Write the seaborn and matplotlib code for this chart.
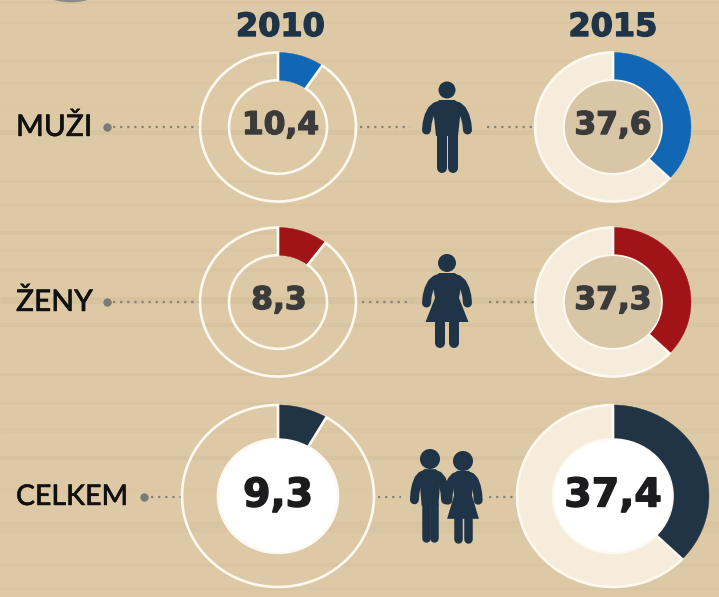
"""
plot.py

Donut infographic: share by group, 2010 vs 2015
"""

import numpy as np
import pandas as pd
import seaborn as sns

from matplotlib import pyplot as plt
from matplotlib import patheffects as pe
from matplotlib.patches import Circle, Polygon

sns.set_style('white')
plt.rcParams['font.family'] = ['Lato', 'DejaVu Sans']

#------------------------------------------------------------------------------
# Data
#------------------------------------------------------------------------------
years = ['2010', '2015']
groups = ['MUŽI', 'ŽENY', 'CELKEM']
labels_2010 = ['10,4', '8,3', '9,3']
labels_2015 = ['37,6', '37,3', '37,4']
# slice sizes as drawn in the picture, they don't follow the printed labels exactly
slices_2010 = [9.6, 10.4, 8.4]
slices_2015 = [37.1, 37.1, 37.2]

#------------------------------------------------------------------------------
# Layout (pixels) and colours
#------------------------------------------------------------------------------
W, H = 719, 597
row_y = [127, 302, 496]
col_x = [278, 613]
ring_rx = [78, 78, 96]
ring_ry = [74.5, 74.5, 91]
hole_rx = [49, 49, 60]
row_colors = ['#1267b4', '#a01418', '#213446']
navy = '#203448'
wood = '#ddc9a6'
cream = '#f6ecdc'
hole_wood = '#d8c6a6'
ring_edge = '#fdf9f0'

# wood grain: y, thickness, colour
grain = [(2, 3, '#d8c4a1'), (22, 3, '#dac6a3'), (61, 4, '#dac6a2'), (83, 3, '#dac6a3'),
         (107, 6, '#dec8a3'), (132, 5, '#d7c39f'), (181, 3, '#d8c4a0'), (205, 3, '#dac6a3'),
         (233, 4, '#d7c39f'), (250, 4, '#dac6a3'), (270, 4, '#d8c4a0'), (300, 7, '#d7c29e'),
         (325, 4, '#d7c39f'), (374, 3, '#d7c39f'), (403, 3, '#d8c4a0'), (430, 5, '#dac6a3'),
         (458, 4, '#d7c39f'), (490, 6, '#dec8a3'), (527, 12, '#d9c5a1'), (565, 4, '#d8c4a0'),
         (588, 3, '#dac6a3')]

#------------------------------------------------------------------------------
# Background axes in pixel coordinates
#------------------------------------------------------------------------------
fig = plt.figure(figsize=(W / 100, H / 100), dpi=100, facecolor=wood)
bg = fig.add_axes([0, 0, 1, 1])
bg.axis('off')

for y, thick, c in grain:
    bg.plot([0, W], [y, y], color=c, lw=thick * 0.72, solid_capstyle='butt', zorder=1)

# scrap of something cut by the top edge
bg.add_patch(Circle((71, -60), 62.3, fc='#8b8b89', ec='none', zorder=2))

#------------------------------------------------------------------------------
# Leader lines
#------------------------------------------------------------------------------
leaders = pd.DataFrame({
    'x0': [113, 360, 487, 113, 362, 489, 151, 378, 489],
    'x1': [200, 410, 532, 200, 412, 534, 182, 401, 516],
    'y': [127, 127, 127, 302, 302, 302, 496.5, 496.5, 496.5],
})
for i, row in leaders.iterrows():
    sns.lineplot(x=[row.x0, row.x1], y=[row.y, row.y], ax=bg, color='#85827a', lw=1.6,
                 linestyle=(0, (1, 2.2)), errorbar=None, zorder=3)
sns.scatterplot(x=[107, 107, 144], y=[127, 302, 496.5], ax=bg, color='#7a7a76', s=36,
                linewidth=0, zorder=3)
bg.set_xlim(0, W)
bg.set_ylim(H, 0)

#------------------------------------------------------------------------------
# Donuts
#------------------------------------------------------------------------------
def donut(cx, cy, rx, ry, hrx, value, color, rest, hole):
    ax = fig.add_axes([(cx - rx - 2) / W, 1 - (cy + ry + 2) / H,
                       (2 * rx + 4) / W, (2 * ry + 4) / H])
    wedges, _ = ax.pie([value, 100 - value], colors=[color, rest], startangle=90,
                       counterclock=False, radius=1,
                       wedgeprops={'width': 1 - hrx / rx, 'linewidth': 1.9, 'edgecolor': ring_edge})
    wedges[0].set_edgecolor(color)
    wedges[0].set_linewidth(0.3)
    ax.set_aspect('auto')
    ax.set_xlim(-(rx + 2) / rx, (rx + 2) / rx)
    ax.set_ylim(-(ry + 2) / ry, (ry + 2) / ry)
    ax.patch.set_alpha(0)
    if hole is not None:
        ax.add_patch(Circle((0, 0), hrx / rx, fc=hole, ec=ring_edge, lw=1.2))
    return ax


for i in range(3):
    hole = 'white' if i == 2 else None
    donut(col_x[0], row_y[i], ring_rx[i], ring_ry[i], hole_rx[i], slices_2010[i],
          row_colors[i], (0, 0, 0, 0), hole)
    donut(col_x[1], row_y[i], ring_rx[i], ring_ry[i], hole_rx[i], slices_2015[i],
          row_colors[i], cream, 'white' if i == 2 else hole_wood)

#------------------------------------------------------------------------------
# Pictograms, outlines around a local origin (head centre)
#------------------------------------------------------------------------------
overlay = fig.add_axes([0, 0, 1, 1])
overlay.set_xlim(0, W)
overlay.set_ylim(H, 0)
overlay.axis('off')
overlay.patch.set_alpha(0)

arm_path = [(-20.5, 40), (-19.8, 33), (-18, 26), (-15, 20), (-11, 16.5), (-6, 15),
            (6, 15), (11, 16.5), (15, 20), (18, 26), (19.8, 33), (20.5, 40)]


def limb(pts, cx, cy, sx, sy, width):
    pts = np.array(pts, dtype=float)
    overlay.plot(cx + pts[:, 0] * sx, cy + pts[:, 1] * sy, color=navy, lw=width * 0.72,
                 solid_capstyle='round', solid_joinstyle='round', zorder=5)


def man(cx, cy, sx=1.0, sy=1.0, head=8.5, leg=10):
    overlay.add_patch(Circle((cx, cy), head, fc=navy, ec='none', zorder=5))
    body = [(-8, 10), (8, 10), (14, 18), (11, 46), (-11, 46), (-14, 18)]
    overlay.add_patch(Polygon([(cx + x * sx, cy + y * sy) for x, y in body], fc=navy, ec='none', zorder=5))
    limb(arm_path, cx, cy, sx, sy, 9)
    limb([(-5.5, 44), (-5.5, 77.5)], cx, cy, sx, sy, leg)
    limb([(5.5, 44), (5.5, 77.5)], cx, cy, sx, sy, leg)


def woman(cx, cy, sx=1.0, sy=1.0, head=9, leg=10):
    overlay.add_patch(Circle((cx, cy), head, fc=navy, ec='none', zorder=5))
    body = [(-8, 10), (8, 10), (15, 18), (12, 35), (21.5, 59), (-21.5, 59), (-12, 35), (-15, 18)]
    overlay.add_patch(Polygon([(cx + x * sx, cy + y * sy) for x, y in body], fc=navy, ec='none', zorder=5))
    limb(arm_path, cx, cy, sx, sy, 9)
    limb([(-7, 58), (-7, 80)], cx, cy, sx, sy, leg)
    limb([(7, 58), (7, 80)], cx, cy, sx, sy, leg)


man(447, 90)
woman(447, 263)
man(430, 459, 0.76, 1.02, head=10, leg=8.5)
woman(463, 461, 0.74, 0.98, head=10, leg=8.5)

#------------------------------------------------------------------------------
# Text
#------------------------------------------------------------------------------
num_font = ['DejaVu Sans']


def heavy(color, w):
    return [pe.withStroke(linewidth=w, foreground=color)]


for x, year in zip([280.5, 613], years):
    overlay.text(x, 36, year, ha='center', va='baseline', fontsize=23, fontweight='bold',
                 family=num_font, color=navy, zorder=6, path_effects=heavy(navy, 1.0))

label_base = [136, 311, 505]
label_size = [21.5, 21.5, 20.5]
num_base = [134, 309, 506.5]
num_x = [[280.5, 613], [279, 613], [278, 613]]
for i in range(3):
    overlay.text(16, label_base[i], groups[i], ha='left', va='baseline', fontsize=label_size[i],
                 fontweight='medium', color='#111111', zorder=6, path_effects=heavy('#111111', 0.3))
    fs = 28.5 if i == 2 else 22.5
    tc = '#1c1c1e' if i == 2 else '#3c3b3c'
    overlay.text(num_x[i][0], num_base[i], labels_2010[i], ha='center', va='baseline', fontsize=fs,
                 fontweight='bold', family=num_font, color=tc, zorder=6, path_effects=heavy(tc, 1.0))
    overlay.text(num_x[i][1], num_base[i], labels_2015[i], ha='center', va='baseline', fontsize=fs,
                 fontweight='bold', family=num_font, color=tc, zorder=6, path_effects=heavy(tc, 1.0))

fig.savefig('out.png', dpi=100, facecolor=wood)
